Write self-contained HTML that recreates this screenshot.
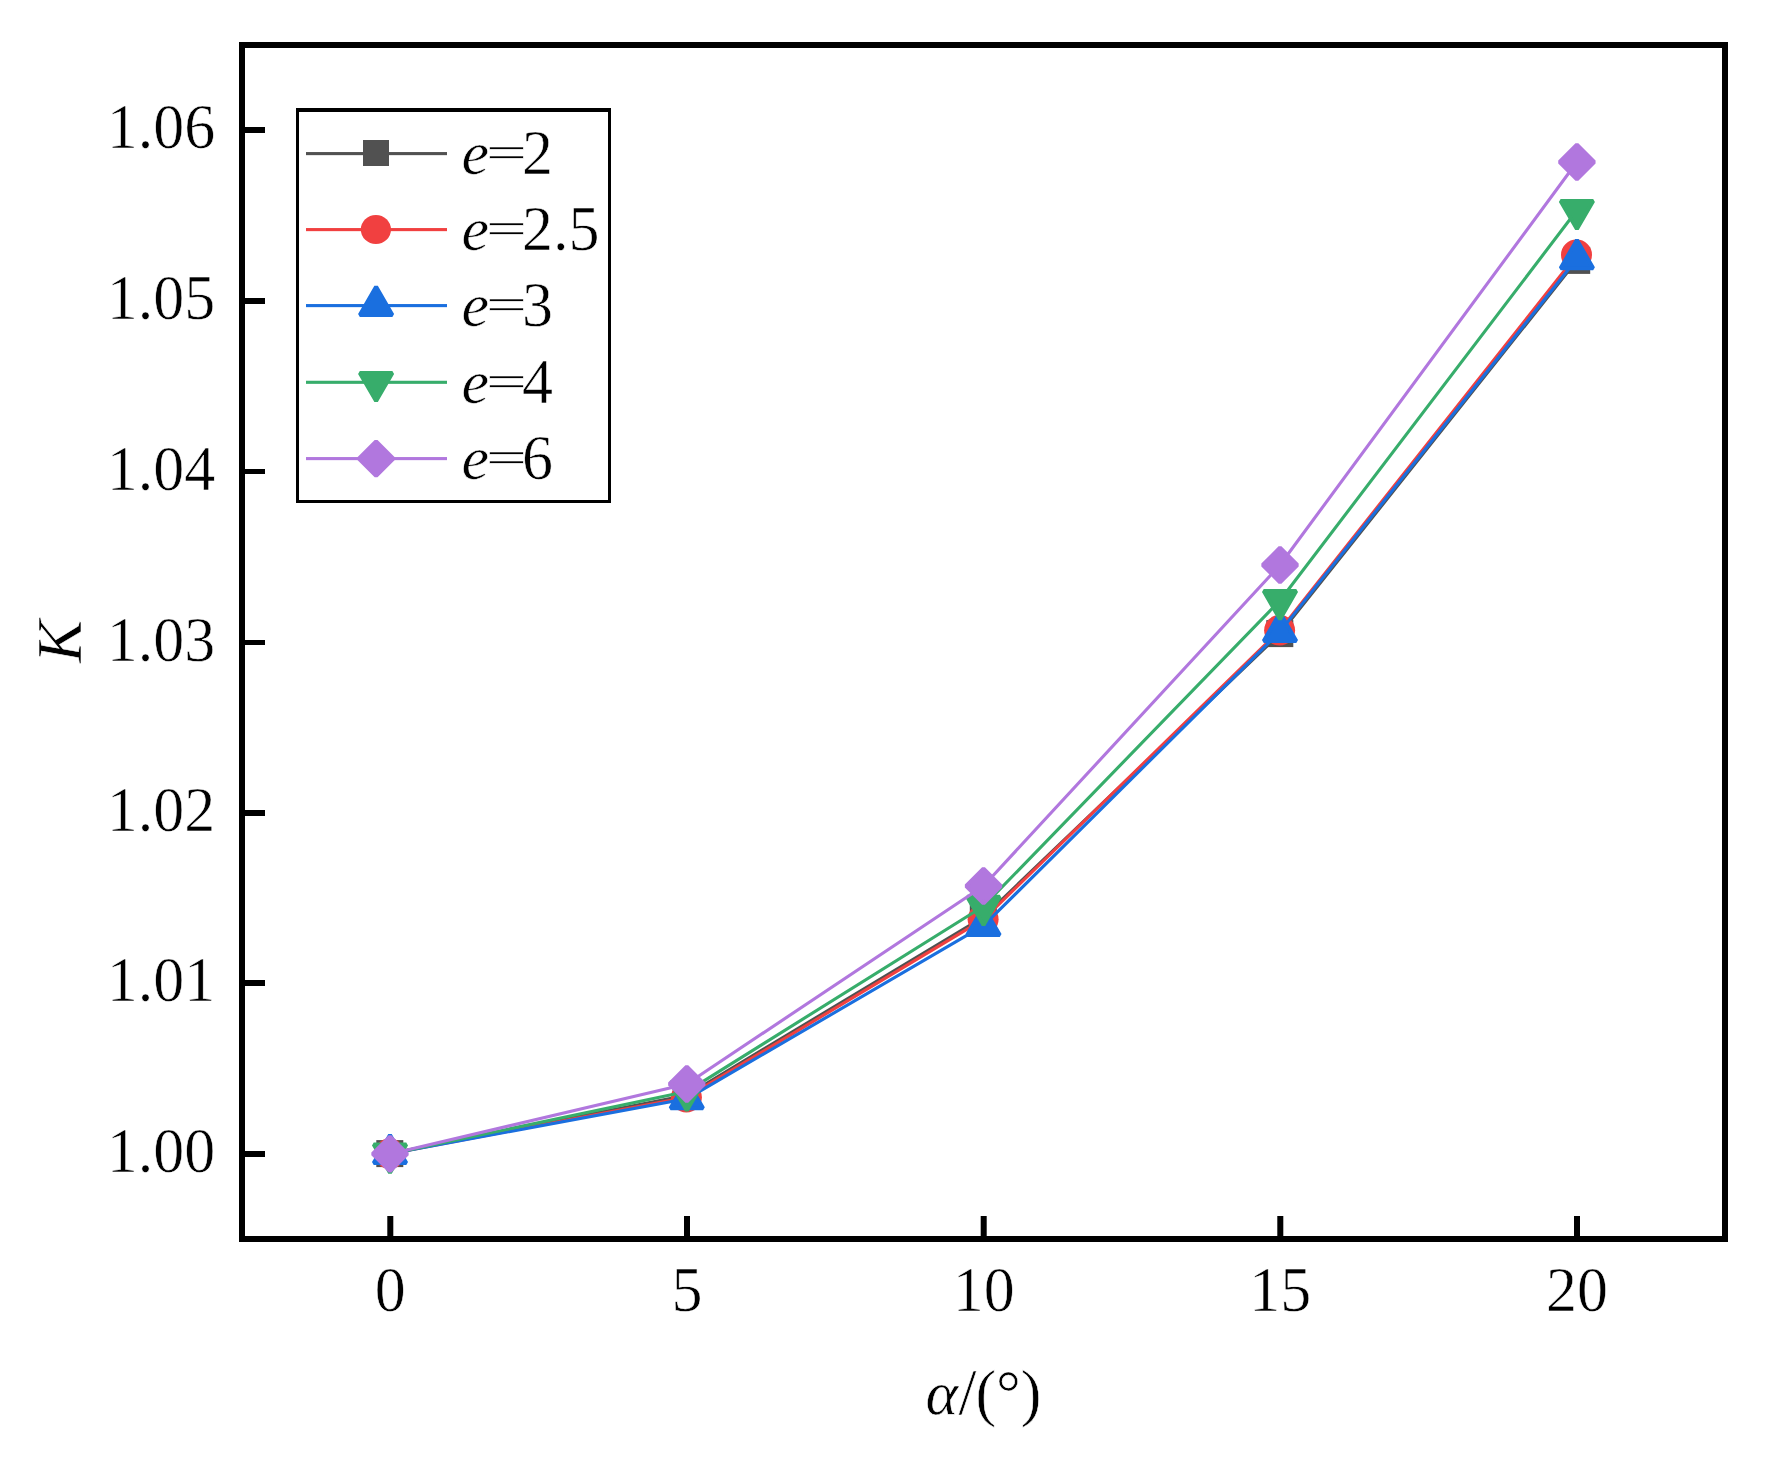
<!DOCTYPE html>
<html lang="en">
<head>
<meta charset="utf-8">
<title>K versus alpha</title>
<style>
html,body{margin:0;padding:0;background:#fff;}
body{width:1780px;height:1465px;overflow:hidden;}
svg{display:block;}
text{font-family:"Liberation Serif","Times New Roman",serif;font-size:62px;fill:#000;stroke:#fff;stroke-width:0.55px;}
.i{font-style:italic;}
</style>
</head>
<body>
<svg width="1780" height="1465" viewBox="0 0 1780 1465">
<rect x="0" y="0" width="1780" height="1465" fill="#ffffff"/>

<g><polyline points="390.0,1153.6 686.8,1095.3 983.5,917.0 1280.0,633.6 1576.9,260.4" fill="none" stroke="#515151" stroke-width="3.1" stroke-linejoin="round"/>
<rect x="376.3" y="1140.1" width="27" height="27" fill="#515151"/>
<rect x="673.1" y="1081.8" width="27" height="27" fill="#515151"/>
<rect x="969.8" y="903.5" width="27" height="27" fill="#515151"/>
<rect x="1266.3" y="620.1" width="27" height="27" fill="#515151"/>
<rect x="1563.2" y="246.9" width="27" height="27" fill="#515151"/>
</g>
<g><polyline points="390.0,1153.7 686.8,1097.2 983.5,919.3 1280.0,630.2 1576.9,254.8" fill="none" stroke="#F14040" stroke-width="3.1" stroke-linejoin="round"/>
<ellipse cx="389.6" cy="1153.7" rx="15.5" ry="15.2" fill="#F14040"/>
<ellipse cx="686.4" cy="1097.2" rx="15.5" ry="15.2" fill="#F14040"/>
<ellipse cx="983.1" cy="919.3" rx="15.5" ry="15.2" fill="#F14040"/>
<ellipse cx="1279.6" cy="630.2" rx="15.5" ry="15.2" fill="#F14040"/>
<ellipse cx="1576.5" cy="254.8" rx="15.5" ry="15.2" fill="#F14040"/>
</g>
<g><polyline points="390.0,1153.7 686.8,1098.8 983.5,925.7 1280.0,631.6 1576.9,258.8" fill="none" stroke="#1A6FDF" stroke-width="3.1" stroke-linejoin="round"/>
<polygon points="390.00,1134.90 406.28,1163.10 373.72,1163.10" fill="#1A6FDF" stroke="#1A6FDF" stroke-width="4" stroke-linejoin="bevel"/>
<polygon points="686.80,1080.00 703.08,1108.20 670.52,1108.20" fill="#1A6FDF" stroke="#1A6FDF" stroke-width="4" stroke-linejoin="bevel"/>
<polygon points="983.50,906.90 999.78,935.10 967.22,935.10" fill="#1A6FDF" stroke="#1A6FDF" stroke-width="4" stroke-linejoin="bevel"/>
<polygon points="1280.00,612.80 1296.28,641.00 1263.72,641.00" fill="#1A6FDF" stroke="#1A6FDF" stroke-width="4" stroke-linejoin="bevel"/>
<polygon points="1576.90,240.00 1593.18,268.20 1560.62,268.20" fill="#1A6FDF" stroke="#1A6FDF" stroke-width="4" stroke-linejoin="bevel"/>
</g>
<g><polyline points="390.0,1153.9 686.8,1091.6 983.5,906.2 1280.0,600.5 1576.9,210.3" fill="none" stroke="#37AD6B" stroke-width="3.1" stroke-linejoin="round"/>
<polygon points="390.00,1172.70 406.28,1144.50 373.72,1144.50" fill="#37AD6B" stroke="#37AD6B" stroke-width="4" stroke-linejoin="bevel"/>
<polygon points="686.80,1110.40 703.08,1082.20 670.52,1082.20" fill="#37AD6B" stroke="#37AD6B" stroke-width="4" stroke-linejoin="bevel"/>
<polygon points="983.50,925.00 999.78,896.80 967.22,896.80" fill="#37AD6B" stroke="#37AD6B" stroke-width="4" stroke-linejoin="bevel"/>
<polygon points="1280.00,619.30 1296.28,591.10 1263.72,591.10" fill="#37AD6B" stroke="#37AD6B" stroke-width="4" stroke-linejoin="bevel"/>
<polygon points="1576.90,229.10 1593.18,200.90 1560.62,200.90" fill="#37AD6B" stroke="#37AD6B" stroke-width="4" stroke-linejoin="bevel"/>
</g>
<g><polyline points="390.0,1153.9 686.8,1084.0 983.5,886.0 1280.0,565.0 1576.9,162.0" fill="none" stroke="#B177DE" stroke-width="3.1" stroke-linejoin="round"/>
<polygon points="390.00,1136.65 407.25,1153.90 390.00,1171.15 372.75,1153.90" fill="#B177DE" stroke="#B177DE" stroke-width="4" stroke-linejoin="bevel"/>
<polygon points="686.80,1066.75 704.05,1084.00 686.80,1101.25 669.55,1084.00" fill="#B177DE" stroke="#B177DE" stroke-width="4" stroke-linejoin="bevel"/>
<polygon points="983.50,868.75 1000.75,886.00 983.50,903.25 966.25,886.00" fill="#B177DE" stroke="#B177DE" stroke-width="4" stroke-linejoin="bevel"/>
<polygon points="1280.00,547.75 1297.25,565.00 1280.00,582.25 1262.75,565.00" fill="#B177DE" stroke="#B177DE" stroke-width="4" stroke-linejoin="bevel"/>
<polygon points="1576.90,144.75 1594.15,162.00 1576.90,179.25 1559.65,162.00" fill="#B177DE" stroke="#B177DE" stroke-width="4" stroke-linejoin="bevel"/>
</g>
<rect x="242" y="45" width="1483" height="1194" fill="none" stroke="#000" stroke-width="6"/>
<rect x="387.3" y="1216" width="6" height="21" fill="#000"/>
<rect x="684.0" y="1216" width="6" height="21" fill="#000"/>
<rect x="980.7" y="1216" width="6" height="21" fill="#000"/>
<rect x="1277.3" y="1216" width="6" height="21" fill="#000"/>
<rect x="1574.0" y="1216" width="6" height="21" fill="#000"/>
<rect x="244" y="1151" width="21" height="6" fill="#000"/>
<rect x="244" y="980" width="21" height="6" fill="#000"/>
<rect x="244" y="810" width="21" height="6" fill="#000"/>
<rect x="244" y="640" width="21" height="5" fill="#000"/>
<rect x="244" y="469" width="21" height="5" fill="#000"/>
<rect x="244" y="298" width="21" height="6" fill="#000"/>
<rect x="244" y="127" width="21" height="6" fill="#000"/>
<text transform="translate(215.3,1172.2) scale(1,1.035)" text-anchor="end">1.00</text>
<text transform="translate(215.3,1001.2) scale(1,1.035)" text-anchor="end">1.01</text>
<text transform="translate(215.3,831.2) scale(1,1.035)" text-anchor="end">1.02</text>
<text transform="translate(215.3,661.2) scale(1,1.035)" text-anchor="end">1.03</text>
<text transform="translate(215.3,490.2) scale(1,1.035)" text-anchor="end">1.04</text>
<text transform="translate(215.3,319.2) scale(1,1.035)" text-anchor="end">1.05</text>
<text transform="translate(215.3,148.2) scale(1,1.035)" text-anchor="end">1.06</text>
<text transform="translate(390.3,1310.7) scale(1,1.035)" text-anchor="middle">0</text>
<text transform="translate(687.0,1310.7) scale(1,1.035)" text-anchor="middle">5</text>
<text transform="translate(983.7,1310.7) scale(1,1.035)" text-anchor="middle">10</text>
<text transform="translate(1280.3,1310.7) scale(1,1.035)" text-anchor="middle">15</text>
<text transform="translate(1577.0,1310.7) scale(1,1.035)" text-anchor="middle">20</text>
<text class="i" transform="translate(81.2,641.3) rotate(-90) scale(1.015,1)" text-anchor="middle" style="font-size:63px">K</text>
<text class="i" x="925.6" y="1413.5">α</text>
<text transform="translate(958.4,1413.8) scale(1.04,1.07)">/</text>
<text transform="translate(975.4,1413.5) scale(1,1.03)">(°)</text>
<path d="M296 108H611V503H296Z M299 112V500H608V112Z" fill="#000" fill-rule="evenodd"/>
<rect x="299" y="112" width="309" height="388" fill="#fff"/>
<rect x="306" y="152.05" width="141" height="3.1" fill="#515151"/>
<rect x="363.0" y="140.0" width="26" height="26" fill="#515151"/>
<text class="i" x="461.5" y="174.2">e</text>
<text transform="translate(506.5,152.20) scale(1.18,0.72)" text-anchor="middle" dominant-baseline="central">=</text>
<text transform="translate(522,174.3) scale(1,1.035)">2</text>
<rect x="306" y="228.05" width="141" height="3.1" fill="#F14040"/>
<ellipse cx="375.9" cy="229.5" rx="15.1" ry="14.6" fill="#F14040"/>
<text class="i" x="461.5" y="250.2">e</text>
<text transform="translate(506.5,228.20) scale(1.18,0.72)" text-anchor="middle" dominant-baseline="central">=</text>
<text transform="translate(522,250.3) scale(1,1.035)">2.5</text>
<rect x="306" y="304.05" width="141" height="3.1" fill="#1A6FDF"/>
<polygon points="376.10,286.80 392.38,315.00 359.82,315.00" fill="#1A6FDF" stroke="#1A6FDF" stroke-width="4" stroke-linejoin="bevel"/>
<text class="i" x="461.5" y="326.2">e</text>
<text transform="translate(506.5,304.20) scale(1.18,0.72)" text-anchor="middle" dominant-baseline="central">=</text>
<text transform="translate(522,326.3) scale(1,1.035)">3</text>
<rect x="306" y="380.75" width="141" height="3.1" fill="#37AD6B"/>
<polygon points="376.10,401.10 392.38,372.90 359.82,372.90" fill="#37AD6B" stroke="#37AD6B" stroke-width="4" stroke-linejoin="bevel"/>
<text class="i" x="461.5" y="402.9">e</text>
<text transform="translate(506.5,380.90) scale(1.18,0.72)" text-anchor="middle" dominant-baseline="central">=</text>
<text transform="translate(522,403.0) scale(1,1.035)">4</text>
<rect x="306" y="457.05" width="141" height="3.1" fill="#B177DE"/>
<polygon points="376.10,441.35 393.35,458.60 376.10,475.85 358.85,458.60" fill="#B177DE" stroke="#B177DE" stroke-width="4" stroke-linejoin="bevel"/>
<text class="i" x="461.5" y="479.2">e</text>
<text transform="translate(506.5,457.20) scale(1.18,0.72)" text-anchor="middle" dominant-baseline="central">=</text>
<text transform="translate(522,479.3) scale(1,1.035)">6</text>
</svg>
</body>
</html>
